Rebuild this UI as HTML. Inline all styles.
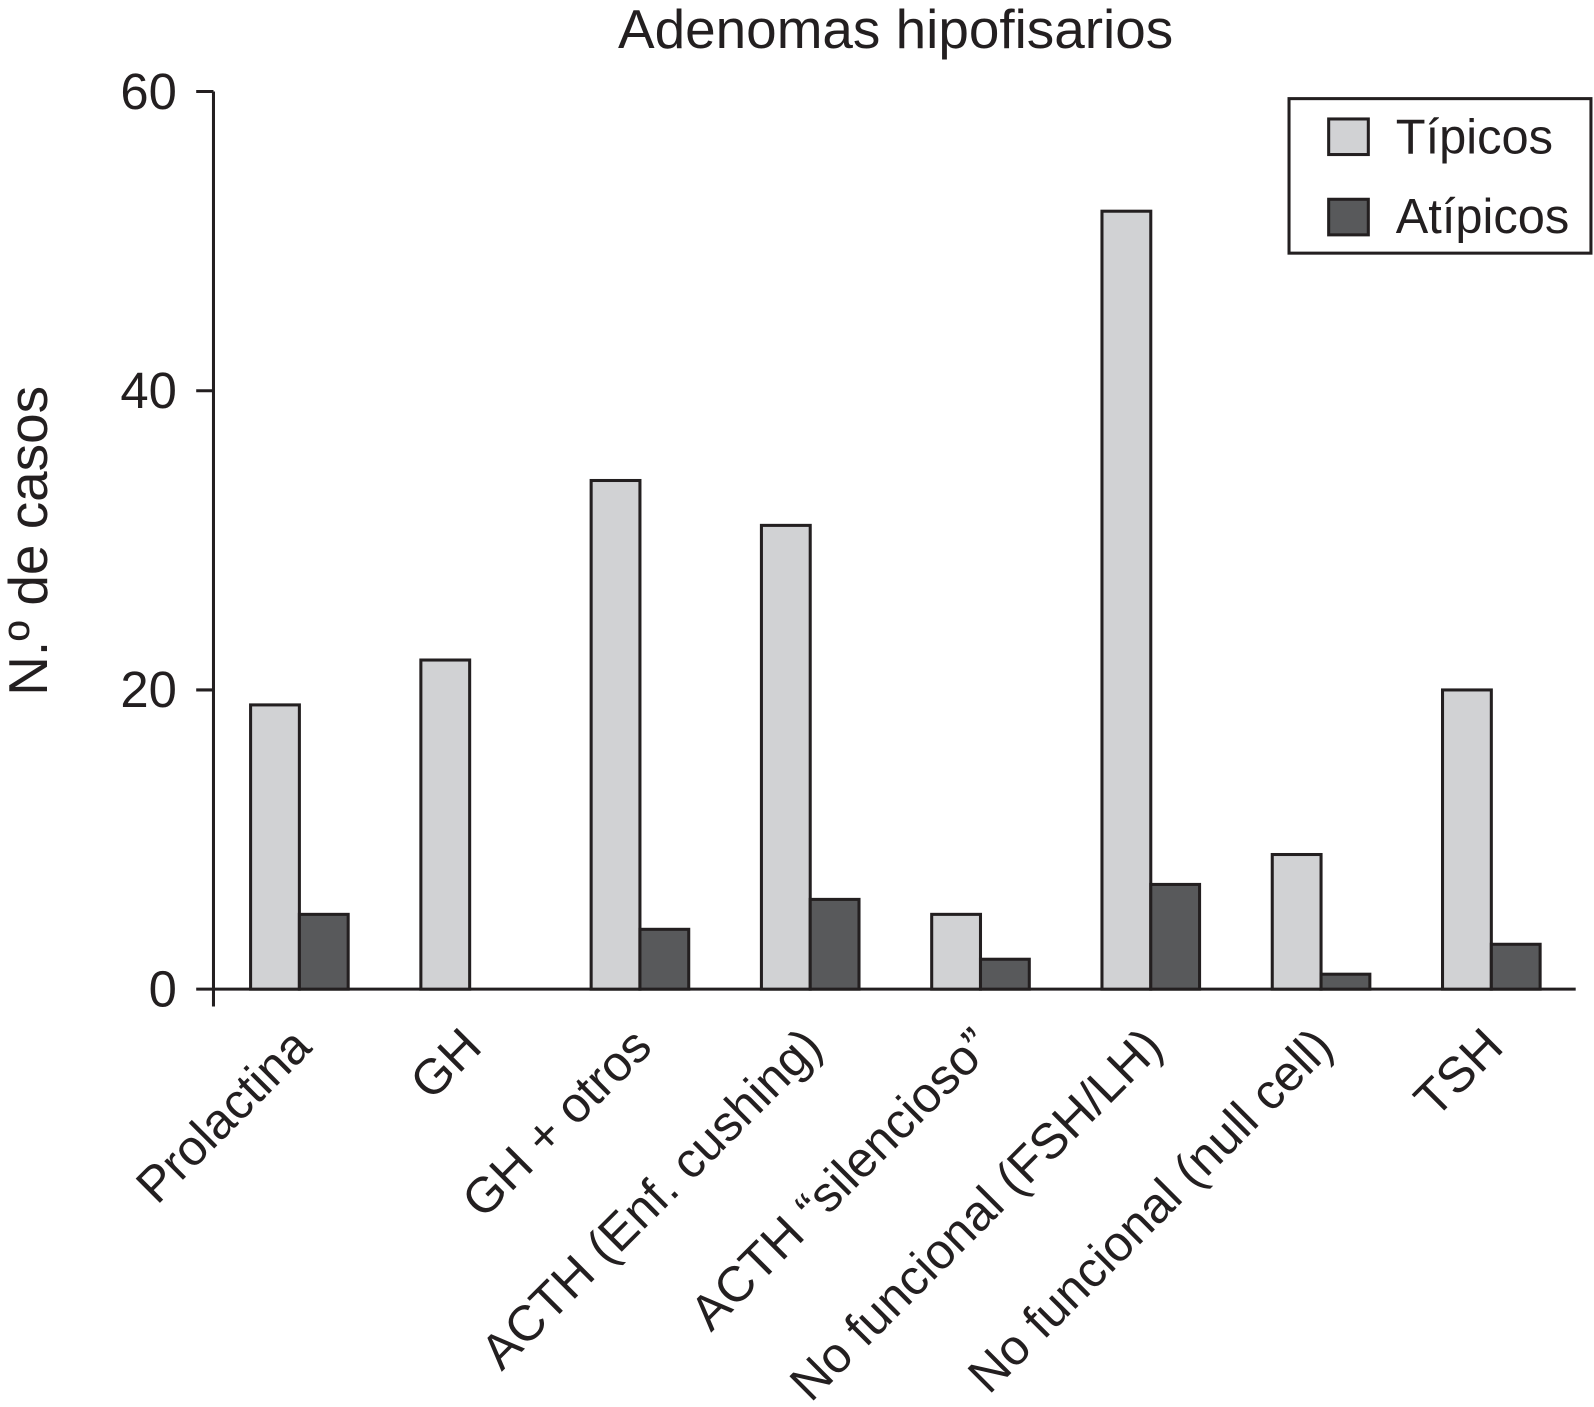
<!DOCTYPE html>
<html><head><meta charset="utf-8"><style>html,body{margin:0;padding:0;background:#fff}svg{display:block}text{font-family:"Liberation Sans",Arial,sans-serif;fill:#231f20}</style></head>
<body>
<svg id="chart" width="1594" height="1407" viewBox="0 0 1568 1384" xmlns="http://www.w3.org/2000/svg">
<text x="881" y="47" font-size="54" text-anchor="middle">Adenomas hipofisarios</text>
<text transform="translate(46,532) rotate(-90)" font-size="54" text-anchor="middle">N.º de casos</text>
<g id="axes"></g>
<g id="bars"></g>
<g id="xlabels"></g>
<g>
<rect x="1268" y="97" width="297" height="152" fill="#fff" stroke="#231f20" stroke-width="3"/>
<rect x="1307" y="117" width="39" height="35" fill="#d1d2d4" stroke="#231f20" stroke-width="3"/>
<text x="1373" y="151" font-size="48">Típicos</text>
<rect x="1307" y="196" width="39" height="35" fill="#58595b" stroke="#231f20" stroke-width="3"/>
<text x="1373" y="229" font-size="48">Atípicos</text>
</g>
</svg>
<script>
const categories = ["Prolactina","GH","GH + otros","ACTH (Enf. cushing)","ACTH \u201csilencioso\u201d","No funcional (FSH/LH)","No funcional (null cell)","TSH"];
const tipicos = [19,22,34,31,5,52,9,20];
const atipicos = [5,0,4,6,2,7,1,3];
const yTicks = [0,20,40,60];
const NS="http://www.w3.org/2000/svg";
const y0=973, yTop=90, yMax=60, xLeft=210, xRight=1550, gStart=294.5, gStep=167.5, bw=48;
const y=v=>y0-(v/yMax)*(y0-yTop);
const xc=i=>gStart+i*gStep;
function mk(tag,attrs,parent){const e=document.createElementNS(NS,tag);for(const k in attrs)e.setAttribute(k,attrs[k]);parent.appendChild(e);return e;}
const axes=document.getElementById('axes');
let a=mk('line',{x1:xLeft,y1:yTop,x2:xLeft,y2:990,stroke:'#231f20','stroke-width':3},axes);


a=mk('line',{x1:xLeft,y1:y0,x2:xRight,y2:y0,stroke:'#231f20','stroke-width':3},axes);


yTicks.forEach(t=>{
 const l=mk('line',{x1:xLeft-17,y1:y(t),x2:xLeft,y2:y(t),stroke:'#231f20','stroke-width':3},axes);
 
 
 const tx=mk('text',{x:xLeft-36,y:y(t)+17,'font-size':50,'text-anchor':'end'},axes);
 tx.textContent=t;
 
 
});
const bars=document.getElementById('bars');
const xl=document.getElementById('xlabels');
categories.forEach((c,i)=>{
 const r1=mk('rect',{x:xc(i)-bw,y:y(tipicos[i]),width:bw,height:y0-y(tipicos[i]),fill:'#d1d2d4',stroke:'#231f20','stroke-width':3},bars);
 
 
 if(atipicos[i]>0){
 const r2=mk('rect',{x:xc(i),y:y(atipicos[i]),width:bw,height:y0-y(atipicos[i]),fill:'#58595b',stroke:'#231f20','stroke-width':3},bars);
 
 
 }
 const t=mk('text',{transform:`translate(${xc(i)+14},${1032}) rotate(-45)`,'font-size':49,'text-anchor':'end'},xl);
 t.textContent=c;
 
 
});
</script>
</body></html>
